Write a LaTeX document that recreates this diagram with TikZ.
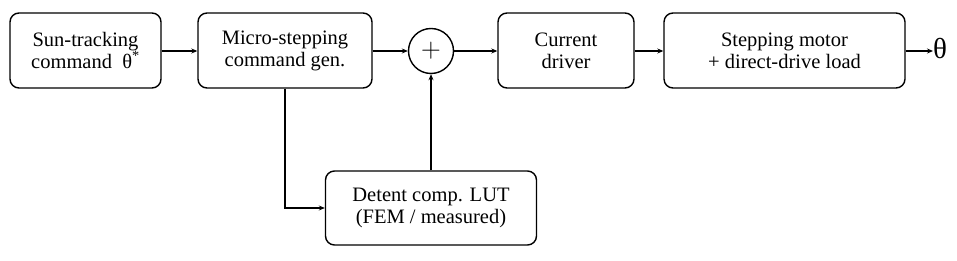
\documentclass[tikz,border=0pt]{standalone}
\usepackage{fontspec}
\setmainfont{Liberation Serif}
\usetikzlibrary{arrows.meta}
\begin{document}
\begin{tikzpicture}[x=1pt,y=-1pt,
  blk/.style={draw, line width=1.4pt, rounded corners=9pt, minimum height=75pt, align=center, inner sep=0pt, font=\fontsize{20.5}{22}\selectfont},
  sumnode/.style={draw, circle, line width=1.4pt, minimum size=45pt, inner sep=0pt},
  conn/.style={line width=1.5pt, -{Stealth[length=6pt,width=5pt]}}]
\useasboundingbox (0,0) rectangle (957,261);
\node[blk, minimum width=151pt] (cmd) at (85.5,50.5) {Sun-tracking\\command\ \ θ\textsuperscript{*}};
\node[blk, minimum width=174pt] (gen) at (285,50.5) {Micro-stepping\\command gen.};
\node[sumnode] (sum) at (431,51) {\scalebox{1.1}{\Huge$+$}};
\node[blk, minimum width=136pt] (drv) at (566,50.5) {Current\\driver};
\node[blk, minimum width=241pt] (mot) at (784.5,50.5) {Stepping motor\\+ direct-drive load};
\node[blk, minimum width=211pt, minimum height=74pt] (lut) at (431,208) {Detent comp. LUT\\(FEM / measured)};
\node[font=\fontsize{29}{29}\selectfont, inner sep=0pt, anchor=west] (th) at (933,49) {θ};
\draw[conn] (cmd.east |- sum) -- (gen.west |- sum);
\draw[conn] (gen.east |- sum) -- (sum.west);
\draw[conn] (sum.east) -- (drv.west |- sum);
\draw[conn] (drv.east |- sum) -- (mot.west |- sum);
\draw[conn] (mot.east |- sum) -- (th.west |- sum);
\draw[conn] (gen.south) -- (gen.south |- lut.west) -- (lut.west);
\draw[conn] (lut.north) -- (sum.south);
\end{tikzpicture}
\end{document}
